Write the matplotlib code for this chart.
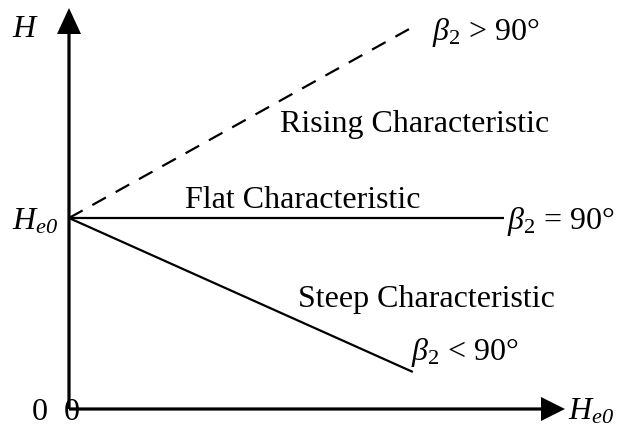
import matplotlib
matplotlib.use("Agg")
import matplotlib.pyplot as plt

# ---- data (schematic H vs Q characteristics) ----
H_e0 = 1.0
curve_names = ["Rising Characteristic", "Flat Characteristic", "Steep Characteristic"]
flow_start = [0.0, 0.0, 0.0]
head_start = [H_e0, H_e0, H_e0]
flow_end = [1.80, 2.28, 1.80]
head_end = [2.00, 1.00, 0.194]
beta_labels = [r"$\beta_2$ > 90°", r"$\beta_2$ = 90°", r"$\beta_2$ < 90°"]
line_styles = [(0, (7, 5)), "-", "-"]

plt.rcParams["font.family"] = ["Liberation Serif", "DejaVu Serif"]
plt.rcParams["mathtext.fontset"] = "custom"
plt.rcParams["mathtext.rm"] = "Liberation Serif"
plt.rcParams["mathtext.it"] = "Liberation Serif:italic"
plt.rcParams["mathtext.sf"] = "Liberation Serif:italic"
plt.rcParams["mathtext.bf"] = "Liberation Serif:bold"

W, Hpx = 618, 429
fig = plt.figure(figsize=(W / 100, Hpx / 100), dpi=100)
ax = fig.add_axes([0, 0, 1, 1])
S = 191.0  # px per unit
ox, oy = 69.0, 409.0
ax.set_xlim(-ox / S, (W - ox) / S)
ax.set_ylim((oy - Hpx) / S, oy / S)
ax.axis("off")

def P(px, py):
    return (px - ox) / S, (oy - py) / S

FS = 23

# axes arrows
ax.arrow(0, 0, (565 - ox) / S, 0, width=3.2 / S, head_width=24 / S, head_length=24 / S,
         length_includes_head=True, color="black", lw=0)
ax.arrow(0, 0, 0, (oy - 8) / S, width=3.2 / S, head_width=24 / S, head_length=26 / S,
         length_includes_head=True, color="black", lw=0)

# characteristic lines
for x0, y0, x1, y1, ls in zip(flow_start, head_start, flow_end, head_end, line_styles):
    ax.plot([x0, x1], [y0, y1], color="black", lw=1.6, linestyle=ls, solid_capstyle="butt")

# curve names
name_pos = [(280, 132), (185, 208), (298, 307)]
for name, (px, py) in zip(curve_names, name_pos):
    ax.text(*P(px, py), name, fontsize=FS, ha="left", va="baseline")

# beta labels
beta_pos = [(432, 40), (507, 229), (411, 360)]
for lab, (px, py) in zip(beta_labels, beta_pos):
    ax.text(*P(px, py), lab, fontsize=FS, ha="left", va="baseline")

# axis labels
ax.text(*P(12, 37), r"$H$", fontsize=FS, ha="left", va="baseline")
ax.text(*P(12, 229), r"$H_{\mathsf{e0}}$", fontsize=FS, ha="left", va="baseline")
ax.text(*P(568, 420), r"$H_{\mathsf{e0}}$", fontsize=FS, ha="left", va="baseline")
ax.text(*P(32, 420), "0", fontsize=FS, ha="left", va="baseline")
ax.text(*P(64, 420), "0", fontsize=FS, ha="left", va="baseline")

fig.savefig("out.png", dpi=100, facecolor="white")
